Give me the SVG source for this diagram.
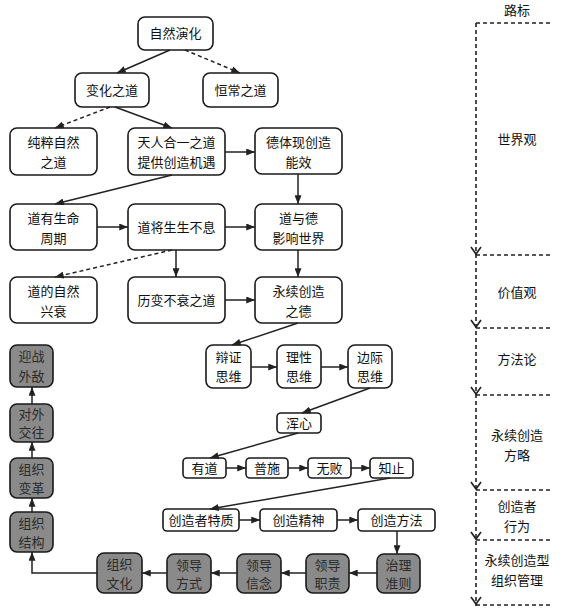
<svg xmlns="http://www.w3.org/2000/svg" width="566" height="610" viewBox="0 0 566 610">
<style>
.b{fill:#fff;stroke:#1a1a1a;stroke-width:1.6}
.g{fill:#8a8a8a;stroke:#1a1a1a;stroke-width:1.6}
text{font-family:"Noto Sans CJK SC","Noto Sans",sans-serif;font-size:13px;fill:#111;text-anchor:middle}
.gt{fill:#2a2a2a}
.c{fill:none;stroke:#222;stroke-width:1.5}
.d{stroke-dasharray:4 3}
.r{fill:none;stroke:#222;stroke-width:1.6;stroke-dasharray:4 3}
.v{fill:none;stroke:#222;stroke-width:1.6}
</style>
<defs>
<marker id="a" viewBox="0 0 10 8" refX="10" refY="4" markerWidth="9" markerHeight="7" markerUnits="userSpaceOnUse" orient="auto"><path d="M0,0 L10,4 L0,8 Z" fill="#222"/></marker>
</defs>
<rect width="566" height="610" fill="#fff"/>
<g id="n1"><rect class="b" x="138" y="17" width="75" height="33" rx="7"/><text x="175.5" y="38">自然演化</text></g>
<g id="n2"><rect class="b" x="75" y="73" width="74" height="34" rx="7"/><text x="112" y="95">变化之道</text></g>
<g id="n3"><rect class="b" x="203" y="73" width="75" height="34" rx="7"/><text x="240.5" y="95">恒常之道</text></g>
<g id="n4"><rect class="b" x="10" y="128" width="87" height="47" rx="7"/><text x="53.5" y="147">纯粹自然</text><text x="53.5" y="167">之道</text></g>
<g id="n5"><rect class="b" x="128" y="128" width="97" height="47" rx="7"/><text x="176.5" y="147">天人合一之道</text><text x="176.5" y="167">提供创造机遇</text></g>
<g id="n6"><rect class="b" x="255" y="128" width="87" height="46" rx="7"/><text x="298.5" y="147">德体现创造</text><text x="298.5" y="167">能效</text></g>
<g id="n7"><rect class="b" x="10" y="204" width="87" height="46" rx="7"/><text x="53.5" y="223">道有生命</text><text x="53.5" y="243">周期</text></g>
<g id="n8"><rect class="b" x="128" y="204" width="97" height="46" rx="7"/><text x="176.5" y="232">道将生生不息</text></g>
<g id="n9"><rect class="b" x="255" y="204" width="87" height="46" rx="7"/><text x="298.5" y="223">道与德</text><text x="298.5" y="243">影响世界</text></g>
<g id="n10"><rect class="b" x="10" y="277" width="87" height="46" rx="7"/><text x="53.5" y="296">道的自然</text><text x="53.5" y="316">兴衰</text></g>
<g id="n11"><rect class="b" x="128" y="277" width="97" height="46" rx="7"/><text x="176.5" y="305">历变不衰之道</text></g>
<g id="n12"><rect class="b" x="255" y="277" width="87" height="46" rx="7"/><text x="298.5" y="296">永续创造</text><text x="298.5" y="316">之德</text></g>
<g id="n13"><rect class="b" x="206" y="345" width="45" height="43" rx="7"/><text x="228.5" y="362">辩证</text><text x="228.5" y="381">思维</text></g>
<g id="n14"><rect class="b" x="277" y="345" width="44" height="43" rx="7"/><text x="299" y="362">理性</text><text x="299" y="381">思维</text></g>
<g id="n15"><rect class="b" x="348" y="345" width="44" height="43" rx="7"/><text x="370" y="362">边际</text><text x="370" y="381">思维</text></g>
<g id="n16"><rect class="b" x="277" y="413" width="44" height="20" rx="4"/><text x="299" y="428">浑心</text></g>
<g id="n17"><rect class="b" x="183" y="458" width="43" height="20" rx="4"/><text x="204.5" y="473">有道</text></g>
<g id="n18"><rect class="b" x="246" y="458" width="42" height="20" rx="4"/><text x="267" y="473">普施</text></g>
<g id="n19"><rect class="b" x="308" y="458" width="43" height="20" rx="4"/><text x="329.5" y="473">无败</text></g>
<g id="n20"><rect class="b" x="370" y="458" width="43" height="20" rx="4"/><text x="391.5" y="473">知止</text></g>
<g id="n21"><rect class="b" x="163" y="509" width="76" height="22" rx="4"/><text x="201" y="525">创造者特质</text></g>
<g id="n22"><rect class="b" x="260" y="509" width="77" height="22" rx="4"/><text x="298.5" y="525">创造精神</text></g>
<g id="n23"><rect class="b" x="358" y="509" width="77" height="22" rx="4"/><text x="396.5" y="525">创造方法</text></g>
<g id="n24"><rect class="g" x="377" y="554" width="43" height="39" rx="7"/><text class="gt" x="398.5" y="570">治理</text><text class="gt" x="398.5" y="588">准则</text></g>
<g id="n25"><rect class="g" x="306" y="554" width="43" height="39" rx="7"/><text class="gt" x="327.5" y="570">领导</text><text class="gt" x="327.5" y="588">职责</text></g>
<g id="n26"><rect class="g" x="237" y="554" width="44" height="39" rx="7"/><text class="gt" x="259" y="570">领导</text><text class="gt" x="259" y="588">信念</text></g>
<g id="n27"><rect class="g" x="167" y="554" width="44" height="39" rx="7"/><text class="gt" x="189" y="570">领导</text><text class="gt" x="189" y="588">方式</text></g>
<g id="n28"><rect class="g" x="97" y="553" width="45" height="40" rx="7"/><text class="gt" x="119.5" y="569">组织</text><text class="gt" x="119.5" y="588">文化</text></g>
<g id="n29"><rect class="g" x="10" y="512" width="43" height="40" rx="7"/><text class="gt" x="31.5" y="528">组织</text><text class="gt" x="31.5" y="547">结构</text></g>
<g id="n30"><rect class="g" x="10" y="458" width="43" height="40" rx="7"/><text class="gt" x="31.5" y="474">组织</text><text class="gt" x="31.5" y="493">变革</text></g>
<g id="n31"><rect class="g" x="10" y="404" width="43" height="38" rx="7"/><text class="gt" x="31.5" y="419">对外</text><text class="gt" x="31.5" y="437">交往</text></g>
<g id="n32"><rect class="g" x="10" y="345" width="43" height="42" rx="7"/><text class="gt" x="31.5" y="361">迎战</text><text class="gt" x="31.5" y="381">外敌</text></g>
<g id="connectors">
<line class="c" x1="170" y1="50" x2="117" y2="73" marker-end="url(#a)"/>
<line class="c d" x1="185" y1="50" x2="240" y2="73" marker-end="url(#a)"/>
<line class="c d" x1="110" y1="107" x2="55" y2="128" marker-end="url(#a)"/>
<line class="c" x1="115" y1="107" x2="172" y2="128" marker-end="url(#a)"/>
<line class="c" x1="225" y1="152" x2="255" y2="152" marker-end="url(#a)"/>
<line class="c" x1="172" y1="175" x2="55" y2="204" marker-end="url(#a)"/>
<line class="c" x1="298" y1="174" x2="298" y2="204" marker-end="url(#a)"/>
<line class="c" x1="97" y1="227" x2="128" y2="227" marker-end="url(#a)"/>
<line class="c" x1="225" y1="227" x2="255" y2="227" marker-end="url(#a)"/>
<line class="c d" x1="172" y1="250" x2="55" y2="277" marker-end="url(#a)"/>
<line class="c" x1="176" y1="250" x2="176" y2="277" marker-end="url(#a)"/>
<line class="c" x1="225" y1="300" x2="255" y2="300" marker-end="url(#a)"/>
<line class="c" x1="298" y1="250" x2="298" y2="277" marker-end="url(#a)"/>
<line class="c" x1="298" y1="323" x2="232" y2="345" marker-end="url(#a)"/>
<line class="c" x1="251" y1="367" x2="277" y2="367" marker-end="url(#a)"/>
<line class="c" x1="321" y1="367" x2="348" y2="367" marker-end="url(#a)"/>
<line class="c" x1="370" y1="388" x2="302" y2="413" marker-end="url(#a)"/>
<line class="c" x1="298" y1="433" x2="210" y2="458" marker-end="url(#a)"/>
<line class="c" x1="226" y1="468" x2="246" y2="468" marker-end="url(#a)"/>
<line class="c" x1="288" y1="468" x2="308" y2="468" marker-end="url(#a)"/>
<line class="c" x1="351" y1="468" x2="370" y2="468" marker-end="url(#a)"/>
<line class="c" x1="390" y1="478" x2="210" y2="509" marker-end="url(#a)"/>
<line class="c" x1="239" y1="520" x2="260" y2="520" marker-end="url(#a)"/>
<line class="c" x1="337" y1="520" x2="358" y2="520" marker-end="url(#a)"/>
<line class="c" x1="397" y1="531" x2="397" y2="554" marker-end="url(#a)"/>
<line class="c" x1="377" y1="573" x2="349" y2="573" marker-end="url(#a)"/>
<line class="c" x1="306" y1="573" x2="281" y2="573" marker-end="url(#a)"/>
<line class="c" x1="237" y1="573" x2="211" y2="573" marker-end="url(#a)"/>
<line class="c" x1="167" y1="573" x2="142" y2="573" marker-end="url(#a)"/>
<polyline class="c" points="97,573 32,573 32,552" marker-end="url(#a)"/>
<line class="c" x1="32" y1="512" x2="32" y2="498" marker-end="url(#a)"/>
<line class="c" x1="32" y1="458" x2="32" y2="442" marker-end="url(#a)"/>
<line class="c" x1="32" y1="404" x2="32" y2="387" marker-end="url(#a)"/>
</g>
<g id="roadmap">
<text x="517" y="15">路标</text>
<line class="r" x1="476" y1="23" x2="476" y2="606"/>
<line class="r" x1="476" y1="23" x2="553" y2="23"/>
<line class="r" x1="476" y1="255" x2="553" y2="255"/>
<line class="r" x1="476" y1="328" x2="553" y2="328"/>
<line class="r" x1="476" y1="395" x2="553" y2="395"/>
<line class="r" x1="476" y1="490" x2="553" y2="490"/>
<line class="r" x1="476" y1="540" x2="553" y2="540"/>
<line class="r" x1="476" y1="605" x2="553" y2="605"/>
<polyline class="v" points="471,247 476,254 481,247"/>
<polyline class="v" points="471,320 476,327 481,320"/>
<polyline class="v" points="471,387 476,394 481,387"/>
<polyline class="v" points="471,482 476,489 481,482"/>
<polyline class="v" points="471,532 476,539 481,532"/>
<polyline class="v" points="471,597 476,604 481,597"/>
<text x="517" y="144">世界观</text>
<text x="517" y="297">价值观</text>
<text x="517" y="364">方法论</text>
<text x="517" y="440">永续创造</text>
<text x="517" y="460">方略</text>
<text x="517" y="511">创造者</text>
<text x="517" y="531">行为</text>
<text x="517" y="565">永续创造型</text>
<text x="517" y="585">组织管理</text>
</g>
</svg>
